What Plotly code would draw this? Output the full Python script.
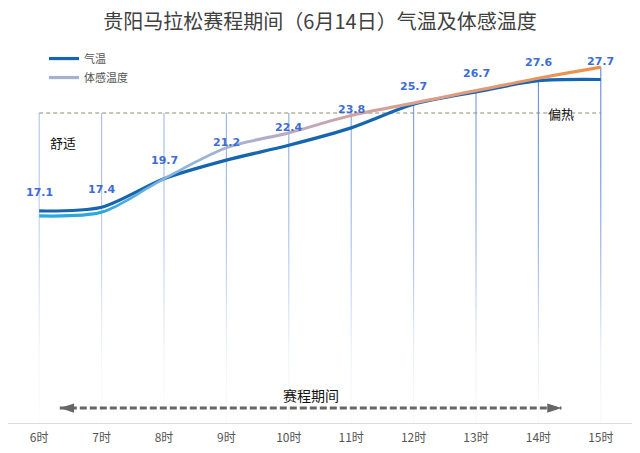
import plotly.graph_objects as go

# ---------------- data ----------------
hours = ["6时", "7时", "8时", "9时", "10时", "11时", "12时", "13时", "14时", "15时"]
air_temp = [17.1, 17.4, 19.7, 21.2, 22.4, 23.8, 25.7, 26.7, 27.6, 27.7]
felt_temp = [16.7, 17.0, 19.7, 22.2, 23.4, 24.8, 25.8, 26.8, 27.8, 28.7]
comfort_limit = 25.0          # 舒适 / 偏热 boundary
race_start_hour = 6.33        # 赛程期间 start
race_end_hour = 14.37         # 赛程期间 end
first_hour = 6

# ---------------- styles ----------------
W, H = 640, 453
M_L, M_R, M_T, M_B = 8, 8, 51, 28
Y_MAX = 30.0
px_per_y = (H - M_T - M_B) / Y_MAX
px_per_x = (W - M_L - M_R) / len(hours)
FONT = "Noto Sans CJK SC"

x = list(range(len(hours)))
n = len(hours)

felt_scale = [
    [0.00, "#2aa8e0"], [0.11, "#2ca6de"], [0.22, "#80b4de"], [0.33, "#a6b2d2"],
    [0.44, "#bba9c4"], [0.56, "#cfa2a2"], [0.67, "#d9a08e"], [0.78, "#e09b78"],
    [0.89, "#e8955e"], [1.00, "#f08f45"],
]


def lerp_rgb(c1, c2, t):
    return tuple(round(a + (b - a) * t) for a, b in zip(c1, c2))


fig = go.Figure()

# vertical fading guide lines
left_rgb, right_rgb = (168, 192, 234), (96, 134, 218)
half_w = 0.55 / px_per_x
top_all = max(felt_temp)
for i in x:
    top = max(felt_temp[i], comfort_limit)
    r, g, b = lerp_rgb(left_rgb, right_rgb, i / (n - 1))
    cs = [
        [0.0, f"rgba({r},{g},{b},0.05)"],
        [0.2, f"rgba({r},{g},{b},0.14)"],
        [0.45, f"rgba({r},{g},{b},0.6)"],
        [0.7, f"rgba({r},{g},{b},0.9)"],
        [1.0, f"rgba({r},{g},{b},1)"],
    ]
    fig.add_trace(go.Scatter(
        x=[i - half_w, i + half_w, i + half_w, i - half_w, i - half_w],
        y=[0, 0, top, top, 0],
        mode="lines", line=dict(width=0), fill="toself",
        fillgradient=dict(type="vertical", colorscale=cs, start=0, stop=top_all),
        showlegend=False, hoverinfo="skip"))

# comfort boundary dashed line
fig.add_trace(go.Scatter(
    x=[x[0], x[-1]], y=[comfort_limit, comfort_limit], mode="lines",
    line=dict(color="#8c8c6c", width=1, dash="4px,3px"),
    showlegend=False, hoverinfo="skip"))

# air temperature line
fig.add_trace(go.Scatter(
    x=x, y=air_temp, mode="lines", name="气温",
    line=dict(color="#1565b0", width=3.2, shape="spline", smoothing=0.8),
    hoverinfo="skip"))

# felt temperature: gradient line drawn as a thin gradient-filled band
d = 1.6 / px_per_y
fig.add_trace(go.Scatter(
    x=x, y=[v - d for v in felt_temp], mode="lines",
    line=dict(width=0, shape="spline", smoothing=0.8),
    showlegend=False, hoverinfo="skip"))
fig.add_trace(go.Scatter(
    x=x, y=[v + d for v in felt_temp], mode="lines",
    line=dict(width=0, shape="spline", smoothing=0.8),
    fill="tonexty",
    fillgradient=dict(type="horizontal", colorscale=felt_scale, start=x[0], stop=x[-1]),
    showlegend=False, hoverinfo="skip"))

# legend entry for felt temperature
fig.add_trace(go.Scatter(
    x=[None], y=[None], mode="lines", name="体感温度",
    line=dict(color="#a3b2d2", width=3.2)))

# race period arrow
arrow_y = 1.2
fig.add_trace(go.Scatter(
    x=[race_start_hour - first_hour, race_end_hour - first_hour], y=[arrow_y, arrow_y],
    mode="lines+markers",
    line=dict(color="#666666", width=3, dash="7px,3px"),
    marker=dict(symbol="arrow", angle=[-90, 90], size=15, color="#666666"),
    showlegend=False, hoverinfo="skip"))

annotations = []
for i, v in enumerate(air_temp):
    annotations.append(dict(
        x=i, y=v, text=f"<b>{v}</b>", showarrow=False, yshift=18,
        font=dict(family="DejaVu Sans", size=11, color="#3d6cd8")))
annotations.append(dict(
    x=x[0], y=22.6, text="舒适", showarrow=False, xanchor="left", xshift=9,
    font=dict(family=FONT, size=13, color="#111111")))
annotations.append(dict(
    x=x[-1], y=comfort_limit, text="偏热", showarrow=False, xanchor="right", xshift=-25,
    font=dict(family=FONT, size=13, color="#111111")))
annotations.append(dict(
    x=(race_start_hour + race_end_hour) / 2 - first_hour, y=2.25, text="赛程期间",
    showarrow=False, font=dict(family=FONT, size=14, color="#111111")))

fig.update_layout(
    width=W, height=H,
    margin=dict(l=M_L, r=M_R, t=M_T, b=M_B),
    paper_bgcolor="white", plot_bgcolor="white",
    font=dict(family=FONT, color="#555555"),
    title=dict(text="贵阳马拉松赛程期间（6月14日）气温及体感温度",
               x=0.5, xref="container", xanchor="center",
               y=1 - 22 / H, yref="container", yanchor="middle",
               font=dict(family=FONT, size=20, color="#404040")),
    showlegend=True,
    legend=dict(x=(44 - M_L) / (W - M_L - M_R), y=1.0 + 7 / (H - M_T - M_B),
                xanchor="left", yanchor="top", traceorder="normal",
                bgcolor="rgba(0,0,0,0)", font=dict(family=FONT, size=11, color="#555555"),
                itemwidth=30, tracegroupgap=0),
    hovermode=False,
    annotations=annotations,
)
fig.update_xaxes(
    range=[-0.5, n - 0.5], tickmode="array", tickvals=x, ticktext=hours,
    showgrid=False, zeroline=False, showline=True, linecolor="#dddddd", linewidth=1,
    ticks="", ticklabelstandoff=4, tickfont=dict(family=FONT, size=12, color="#555555"),
    fixedrange=True)
fig.update_yaxes(range=[0, Y_MAX], visible=False, showgrid=False, zeroline=False, fixedrange=True)

fig.write_html("out.html")
